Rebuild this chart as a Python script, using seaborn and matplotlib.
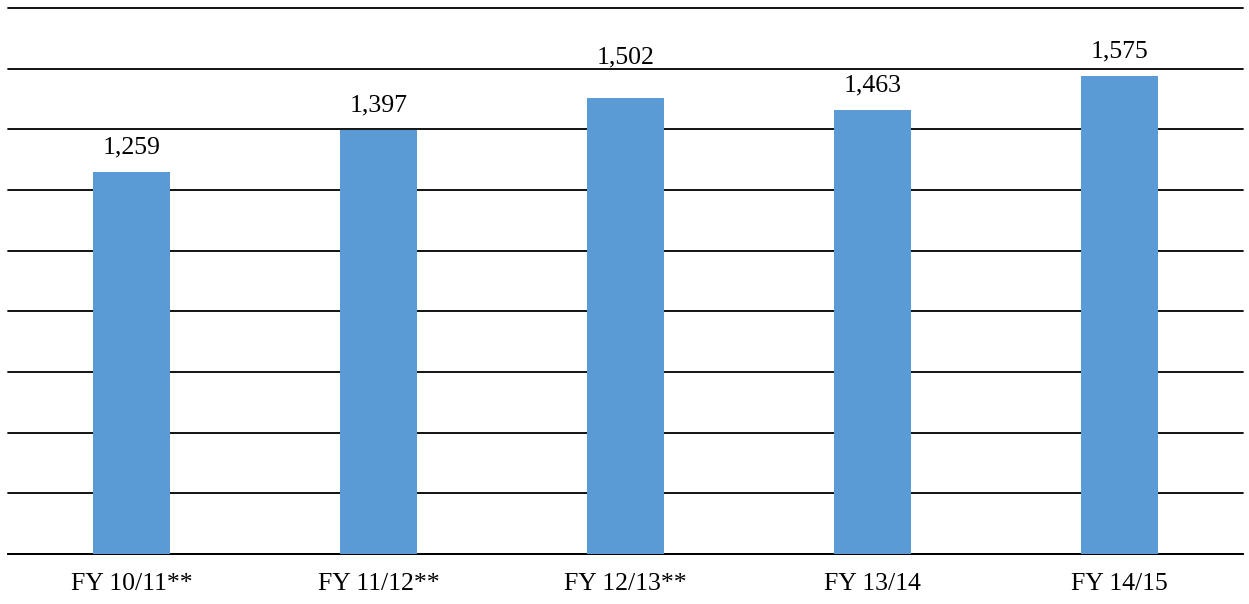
import matplotlib
matplotlib.use("Agg")
import matplotlib.pyplot as plt
import seaborn as sns
import pandas as pd

categories = ["FY 10/11**", "FY 11/12**", "FY 12/13**", "FY 13/14", "FY 14/15"]
values = [1259, 1397, 1502, 1463, 1575]

sns.set_style("white")
plt.rcParams['font.family'] = ['Liberation Serif', 'DejaVu Serif']
plt.rcParams['text.color'] = 'black'
plt.rcParams['xtick.color'] = 'black'

df = pd.DataFrame({"year": categories, "count": values})

fig = plt.figure(figsize=(12.49, 6.04), dpi=100)
ax = fig.add_axes([8 / 1249, 50 / 604, 1235 / 1249, 546 / 604])

sns.barplot(data=df, x="year", y="count", color="#5B9BD5", saturation=1,
            width=0.31, linewidth=0, ax=ax, zorder=3)

ax.set_ylim(0, 1800)
ax.set_yticks(range(0, 1801, 200))
ax.yaxis.grid(True, color="black", linewidth=1.3, zorder=0)
for gl in ax.get_ygridlines():
    gl.set_clip_on(False)
ax.set_axisbelow(True)
ax.tick_params(axis="y", left=False, labelleft=False)
ax.tick_params(axis="x", bottom=False, labelsize=18.5, pad=10, labelcolor="black")
ax.set_xlabel("")
ax.set_ylabel("")
for s in ["left", "right", "top"]:
    ax.spines[s].set_visible(False)
ax.spines["bottom"].set_color("black")
ax.spines["bottom"].set_linewidth(1.3)

# labels sit ~25px above bar; the FY 12/13 one is pushed up clear of the bar
for i, v in enumerate(values):
    off = 135 if i == 2 else 82
    ax.text(i, v + off, f"{v:,}", ha="center", va="center", fontsize=18.5,
            color="black")

fig.savefig("out.png", dpi=100)
